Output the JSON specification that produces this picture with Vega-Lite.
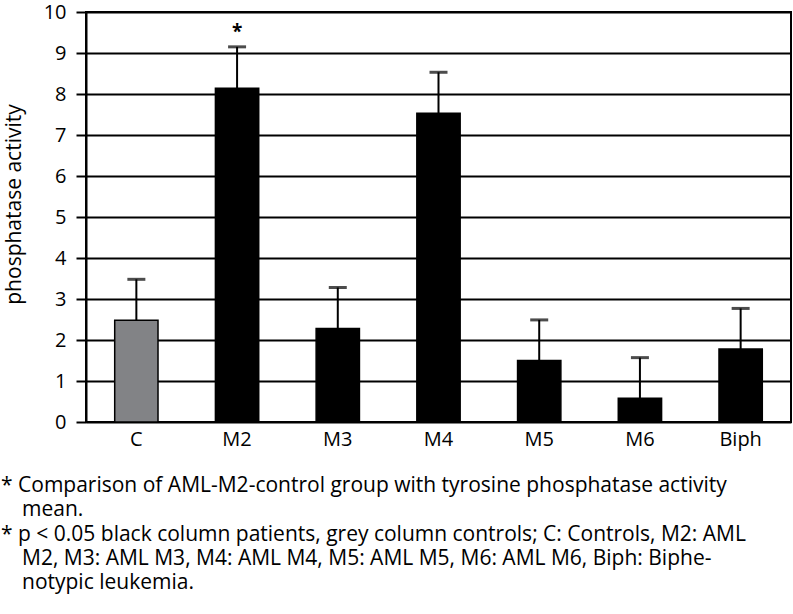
{
  "$schema": "https://vega.github.io/schema/vega-lite/v6.json",
  "width": 705,
  "height": 410,
  "autosize": {"type": "none"},
  "padding": {"left": 86, "top": 12, "right": 2, "bottom": 192},
  "background": "white",
  "config": {
    "font": "Open Sans",
    "view": {"stroke": "black", "strokeWidth": 2},
    "axis": {"labelFont": "Open Sans", "titleFont": "Open Sans", "labelColor": "black", "titleColor": "black", "labelFontSize": 20, "titleFontSize": 21, "titleFontWeight": "normal"}
  },
  "title": {
    "text": ["* Comparison of AML-M2-control group with tyrosine phosphatase activity", "\u200b\u2003mean."],
    "subtitle": ["* p < 0.05 black column patients, grey column controls; C: Controls, M2: AML", "\u200b\u2003M2, M3: AML M3, M4: AML M4, M5: AML M5, M6: AML M6, Biph: Biphe-", "\u200b\u2003notypic leukemia."],
    "orient": "bottom",
    "anchor": "start",
    "frame": "bounds",
    "dx": -2,
    "offset": 26,
    "font": "Open Sans",
    "fontSize": 21,
    "fontWeight": "normal",
    "color": "black",
    "lineHeight": 24,
    "subtitleFont": "Open Sans",
    "subtitleFontSize": 21,
    "subtitleColor": "black",
    "subtitleLineHeight": 24,
    "subtitlePadding": 4
  },
  "data": {
    "values": [
      {"group": "C", "mean": 2.48, "upper": 3.48, "type": "control", "sig": ""},
      {"group": "M2", "mean": 8.14, "upper": 9.15, "type": "patient", "sig": "*"},
      {"group": "M3", "mean": 2.28, "upper": 3.28, "type": "patient", "sig": ""},
      {"group": "M4", "mean": 7.53, "upper": 8.53, "type": "patient", "sig": ""},
      {"group": "M5", "mean": 1.5, "upper": 2.49, "type": "patient", "sig": ""},
      {"group": "M6", "mean": 0.58, "upper": 1.57, "type": "patient", "sig": ""},
      {"group": "Biph", "mean": 1.78, "upper": 2.77, "type": "patient", "sig": ""}
    ]
  },
  "encoding": {
    "x": {
      "field": "group",
      "type": "nominal",
      "sort": null,
      "scale": {"paddingInner": 0.57, "paddingOuter": 0.285},
      "axis": {"title": null, "labelAngle": 0, "ticks": false, "domain": false, "labelFontSize": 20, "labelPadding": 7, "grid": false}
    }
  },
  "layer": [
    {
      "mark": {"type": "bar", "stroke": "black", "strokeWidth": 1.5},
      "encoding": {
        "y": {
          "field": "mean",
          "type": "quantitative",
          "scale": {"domain": [0, 10]},
          "axis": {
            "title": "phosphatase activity",
            "titleFontSize": 21,
            "titleFontWeight": "normal",
            "titleAngle": -90,
            "titleBaseline": "alphabetic",
            "titleAnchor": "middle",
            "titleX": -66,
            "titleY": 192,
            "values": [0, 1, 2, 3, 4, 5, 6, 7, 8, 9, 10],
            "labelOverlap": false,
            "labelFontSize": 20,
            "labelPadding": 10,
            "tickSize": 10,
            "tickColor": "black",
            "tickWidth": 2,
            "domainColor": "black",
            "domainWidth": 2,
            "grid": true,
            "gridColor": "black",
            "gridWidth": 2
          }
        },
        "color": {
          "field": "type",
          "type": "nominal",
          "scale": {"domain": ["control", "patient"], "range": ["#828386", "#000000"]},
          "legend": null
        }
      }
    },
    {
      "mark": {"type": "rule", "color": "black", "strokeWidth": 2},
      "encoding": {
        "y": {"field": "mean", "type": "quantitative"},
        "y2": {"field": "upper"}
      }
    },
    {
      "mark": {"type": "tick", "color": "black", "thickness": 3, "size": 18, "orient": "horizontal"},
      "encoding": {
        "y": {"field": "upper", "type": "quantitative"}
      }
    },
    {
      "mark": {"type": "text", "fontSize": 19, "fontWeight": "bold", "dy": -15, "color": "black", "font": "Open Sans"},
      "encoding": {
        "y": {"field": "upper", "type": "quantitative"},
        "text": {"field": "sig"}
      }
    }
  ]
}
